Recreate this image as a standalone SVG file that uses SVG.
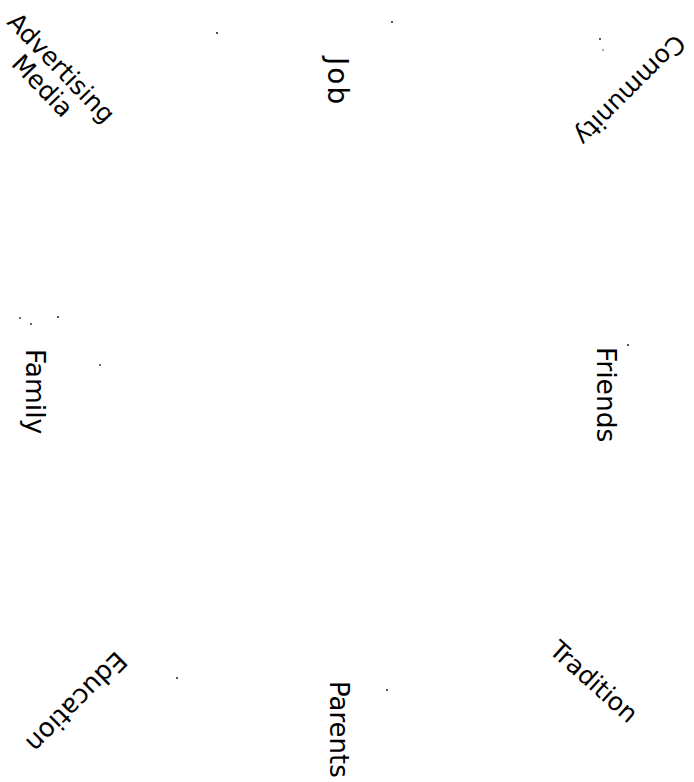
<svg xmlns="http://www.w3.org/2000/svg" width="694" height="782" viewBox="0 0 694 782">
<style>
  .lbl { font-family: "DejaVu Sans", "Liberation Sans", sans-serif; fill: #000; }
  .v { font-size: 26.5px; }
  .d { font-size: 25px; }
  .dot { fill: #222; }
</style>
<rect width="694" height="782" fill="#ffffff"/>
<g id="connectors"></g>
<g id="node-advertising-media" transform="translate(6,23) rotate(46)">
  <text class="lbl d" x="0" y="0">Advertising</text>
  <text class="lbl d" x="33" y="26">Media</text>
</g>
<g id="node-job" transform="translate(328,57) rotate(90)">
  <text class="lbl v" x="0" y="0" style="font-size:28px;letter-spacing:2px">Job</text>
</g>
<g id="node-community" transform="translate(675,33) rotate(135)">
  <text class="lbl d" x="0" y="0">Community</text>
</g>
<g id="node-family" transform="translate(26,349) rotate(90)">
  <text class="lbl v" x="0" y="0">Family</text>
</g>
<g id="node-friends" transform="translate(597,347) rotate(90)">
  <text class="lbl v" x="0" y="0">Friends</text>
</g>
<g id="node-education" transform="translate(116,650) rotate(135)">
  <text class="lbl d" x="0" y="0" style="font-size:26px">Education</text>
</g>
<g id="node-parents" transform="translate(330,681) rotate(90)">
  <text class="lbl v" x="0" y="0" style="font-size:26px">Parents</text>
</g>
<g id="node-tradition" transform="translate(548,652) rotate(42)">
  <text class="lbl d" x="0" y="0">Tradition</text>
</g>
<g id="specks">
  <circle class="dot" cx="217" cy="33" r="1.1"/>
  <circle class="dot" cx="392" cy="22" r="1"/>
  <circle class="dot" cx="600" cy="39" r="1"/>
  <circle class="dot" cx="603" cy="50" r="0.7"/>
  <circle class="dot" cx="20" cy="318" r="0.9"/>
  <circle class="dot" cx="31" cy="324" r="0.9"/>
  <circle class="dot" cx="58" cy="317" r="1"/>
  <circle class="dot" cx="100" cy="365" r="0.9"/>
  <circle class="dot" cx="628" cy="345" r="1"/>
  <circle class="dot" cx="177" cy="678" r="1"/>
  <circle class="dot" cx="387" cy="690" r="1"/>
</g>
</svg>
